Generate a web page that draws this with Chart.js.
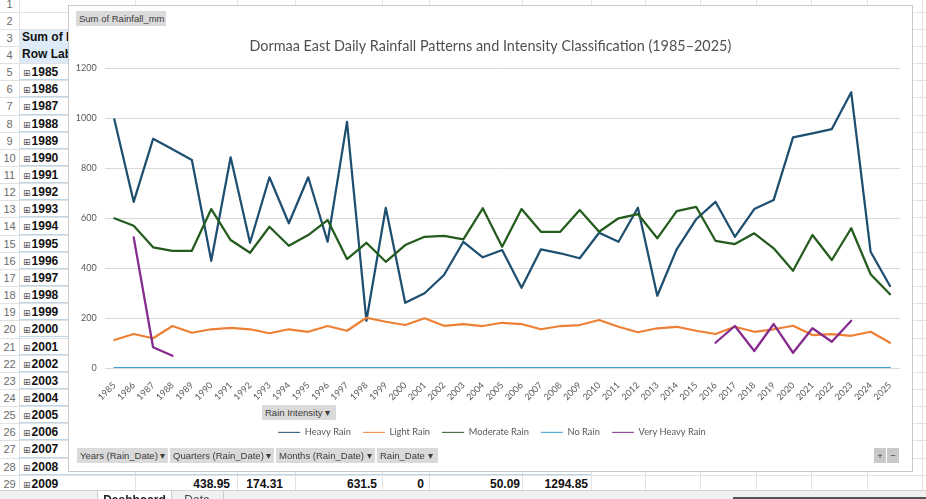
<!DOCTYPE html>
<html>
<head>
<meta charset="utf-8">
<script src="https://cdn.jsdelivr.net/npm/chart.js@4.4.0/dist/chart.umd.min.js"></script>
<style>
    body { margin: 0; width: 926px; height: 499px; overflow: hidden; background: #fff; position: relative;
           font-family: "Liberation Sans Narrow", "Liberation Sans", sans-serif; }
    .abs { position: absolute; }
    .hline { position: absolute; left: 0; width: 926px; height: 1px; background: #e2e2e2; }
    .vline { position: absolute; top: 0; width: 1px; height: 499px; background: #e2e2e2; }
    .rownum { position: absolute; left: 0; width: 19px; text-align: center; color: #6b6b6b; font-size: 11px; font-family: "Liberation Sans", sans-serif; }
    .pcell { position: absolute; left: 19px; width: 572px; border-bottom: 1px solid #bcd6ea; }
    .plabel { position: absolute; left: 23px; font-weight: bold; font-size: 12px; color: #111; }
    .plabel span { font-weight: normal; font-size: 9px; color: #555; margin-right: 1px; font-family: "DejaVu Sans", sans-serif; }
    .pval { position: absolute; font-weight: bold; font-size: 12px; color: #111; text-align: right; }
    #chartBox { position: absolute; left: 68px; top: 5px; width: 843px; height: 465px; border: 1px solid #c9c9c9; background: #fff; }
    #chartBox canvas { position: absolute; left: 0; top: 0; }
    .btn { position: absolute; height: 15px; line-height: 15px; background: #dadada; color: #3b3b3b; font-size: 9.5px;
           font-family: "Liberation Sans Narrow", "Liberation Sans", sans-serif; padding: 0 3px; white-space: nowrap; box-sizing: border-box; }
    .tabbar { position: absolute; left: 0; top: 490px; width: 926px; height: 9px; background: #f0f0f0; border-top: 1px solid #d4d4d4; }
</style>
</head>
<body>
<div id="sheet"></div>

<div id="chartBox">
    <canvas id="rainChart" width="843" height="465"></canvas>
    <div class="btn" style="left:7px;top:5px;width:90px;">Sum of Rainfall_mm</div>
    <div class="btn" style="left:193px;top:399px;width:74px;">Rain Intensity ▾</div>
    <div class="btn" style="left:8px;top:442px;width:91px;">Years (Rain_Date) ▾</div>
    <div class="btn" style="left:101px;top:442px;width:104px;">Quarters (Rain_Date) ▾</div>
    <div class="btn" style="left:207px;top:442px;width:99px;">Months (Rain_Date) ▾</div>
    <div class="btn" style="left:308px;top:442px;width:61px;">Rain_Date ▾</div>
    <div class="btn" style="left:805px;top:442px;width:12px;background:#c9c9c9;text-align:center;padding:0;">+</div>
    <div class="btn" style="left:818px;top:442px;width:12px;background:#c9c9c9;text-align:center;padding:0;">−</div>
</div>

<div class="tabbar">
    <div class="abs" style="left:97px;top:0;width:73px;height:9px;background:#fff;border-left:1px solid #ccc;border-right:1px solid #ccc;overflow:hidden;">
        <div style="font-weight:bold;font-size:12px;text-align:center;margin-top:2px;color:#222;">Dashboard</div>
    </div>
    <div class="abs" style="left:171px;top:0;width:52px;height:9px;border-right:1px solid #ccc;overflow:hidden;">
        <div style="font-size:12px;text-align:center;margin-top:2px;color:#444;">Data</div>
    </div>
    <div class="abs" style="left:733px;top:6px;width:193px;height:3px;background:#555;"></div>
</div>

<script>
// ---- data ----
const years = [];
for (let y = 1985; y <= 2025; y++) years.push(String(y));

const heavyRain = [995, 665, 917, 875, 832, 429, 843, 501, 763, 579,
                   763, 505, 985, 189, 641, 261, 299, 372, 505, 443,
                   472, 321, 475, 459, 439, 541, 505, 641, 289, 475,
                   595, 665, 525, 636, 672, 923, 939, 956, 1103, 465, 328];

const lightRain = [112, 136, 119, 168, 141, 155, 161, 155, 139, 155,
                   145, 168, 149, 201, 185, 172, 199, 169, 176, 168,
                   181, 176, 155, 168, 172, 192, 165, 143, 159, 165,
                   149, 136, 165, 145, 155, 169, 132, 136, 129, 145, 101];

const moderateRain = [599, 569, 483, 469, 469, 636, 512, 461, 565, 489,
                      532, 592, 436, 501, 425, 492, 525, 529, 515, 639,
                      485, 636, 545, 545, 632, 545, 599, 616, 519, 628,
                      645, 509, 496, 539, 479, 389, 532, 432, 559, 375, 295];

const noRain = years.map(() => 0);

const veryHeavyRain = [null, 523, 83, 49, null, null, null, null, null, null,
                       null, null, null, null, null, null, null, null, null, null,
                       null, null, null, null, null, null, null, null, null, null,
                       null, 101, 168, 68, 176, 61, 159, 105, 189, null, null];

const yTicks = [0, 200, 400, 600, 800, 1000, 1200];

// pivot table cells visible next to the chart
const pivotYears = [];
for (let y = 1985; y <= 2009; y++) pivotYears.push(y);
const row2009 = ['438.95', '174.31', '631.5', '0', '50.09', '1294.85'];

// ---- spreadsheet backdrop ----
const sheet = document.getElementById('sheet');
const rowH = 17.15, row1Top = -5.5;
const colLines = [19, 135, 237, 295, 382, 429, 522, 591, 645, 700, 756, 811, 867, 922];
let html = '';
for (let r = 1; r <= 30; r++) {
    html += '<div class="hline" style="top:' + (row1Top + (r - 1) * rowH).toFixed(1) + 'px"></div>';
}
colLines.forEach(x => { html += '<div class="vline" style="left:' + x + 'px"></div>'; });
for (let r = 1; r <= 29; r++) {
    const top = row1Top + (r - 1) * rowH;
    html += '<div class="rownum" style="top:' + (top + 1).toFixed(1) + 'px;line-height:' + rowH + 'px">' + r + '</div>';
}
// header rows 3-4
html += '<div class="abs" style="left:20px;top:' + (row1Top + 2 * rowH + 1).toFixed(1) + 'px;width:571px;height:' + (2 * rowH - 1).toFixed(1) + 'px;background:#dcebf7;"></div>';
html += '<div class="plabel" style="top:' + (row1Top + 2 * rowH).toFixed(1) + 'px;line-height:' + rowH + 'px;left:22px">Sum of Rainfall_mm</div>';
html += '<div class="plabel" style="top:' + (row1Top + 3 * rowH).toFixed(1) + 'px;line-height:' + rowH + 'px;left:22px">Row Labels</div>';
pivotYears.forEach((y, i) => {
    const top = row1Top + (4 + i) * rowH;
    html += '<div class="pcell" style="top:' + (top - 1).toFixed(1) + 'px;height:' + rowH + 'px"></div>';
    html += '<div class="plabel" style="top:' + (top + 1).toFixed(1) + 'px;line-height:' + rowH + 'px"><span>⊞</span>' + y + '</div>';
});
const valRight = [230, 283, 377, 424, 520, 588];
const top29 = row1Top + 28 * rowH;
row2009.forEach((v, i) => {
    html += '<div class="pval" style="top:' + (top29 + 1).toFixed(1) + 'px;line-height:' + rowH + 'px;left:' + (valRight[i] - 60) + 'px;width:60px">' + v + '</div>';
});
sheet.innerHTML = html;

// ---- chart ----
Chart.defaults.font.family = 'Lato, "Open Sans", sans-serif';
Chart.defaults.color = '#595959';

// Excel centres title and legend on the whole chart object, not on the plot
const nudgeCentre = {
    id: 'nudgeCentre',
    afterLayout(chart) {
        chart.titleBlock.left += 6; chart.titleBlock.right += 6;
        chart.legend.left += 7.6; chart.legend.right += 7.6;
    }
};

const ctx = document.getElementById('rainChart').getContext('2d');
new Chart(ctx, {
    type: 'line',
    data: {
        labels: years,
        datasets: [
            { label: 'Heavy Rain', data: heavyRain, borderColor: '#1e4f70', backgroundColor: '#1e4f70', order: 4 },
            { label: 'Light Rain', data: lightRain, borderColor: '#ee8035', backgroundColor: '#ee8035', order: 3 },
            { label: 'Moderate Rain', data: moderateRain, borderColor: '#245c1d', backgroundColor: '#245c1d', order: 2 },
            { label: 'No Rain', data: noRain, borderColor: '#3aa0d5', backgroundColor: '#3aa0d5', order: 1 },
            { label: 'Very Heavy Rain', data: veryHeavyRain, borderColor: '#862a8e', backgroundColor: '#862a8e', order: 0 }
        ]
    },
    plugins: [nudgeCentre],
    options: {
        responsive: false,
        animation: false,
        devicePixelRatio: 1,
        spanGaps: false,
        elements: {
            line: { borderWidth: 2.25, tension: 0, borderJoinStyle: 'round', borderCapStyle: 'round' },
            point: { radius: 0, hoverRadius: 0 }
        },
        layout: { padding: { left: 0, right: 12.3, top: 0, bottom: 24 } },
        plugins: {
            tooltip: { enabled: false },
            title: {
                display: true,
                text: 'Dormaa East Daily Rainfall Patterns and Intensity Classification (1985–2025)',
                color: '#505050',
                font: { size: 14.4, weight: 'normal' },
                padding: { top: 31.4, bottom: 13.4 }
            },
            legend: {
                position: 'bottom',
                labels: {
                    usePointStyle: true,
                    pointStyle: 'line',
                    pointStyleWidth: 22,
                    padding: 12,
                    color: '#595959',
                    font: { size: 9.3 },
                    sort: (a, b) => a.datasetIndex - b.datasetIndex
                }
            }
        },
        scales: {
            x: {
                offset: true,
                grid: { display: false },
                border: { display: false },
                ticks: { autoSkip: false, minRotation: 45, maxRotation: 45, padding: 4, font: { size: 9 } },
                afterFit: scale => { scale.height = 47.7; }
            },
            y: {
                min: 0,
                max: 1200,
                afterBuildTicks: scale => { scale.ticks = yTicks.map(v => ({ value: v })); },
                grid: { color: '#d9d9d9', drawTicks: false },
                border: { display: false },
                ticks: { padding: 8, font: { size: 9 }, callback: v => String(v) },
                afterFit: scale => { scale.width = 35.6; }
            }
        }
    }
});
</script>
</body>
</html>
